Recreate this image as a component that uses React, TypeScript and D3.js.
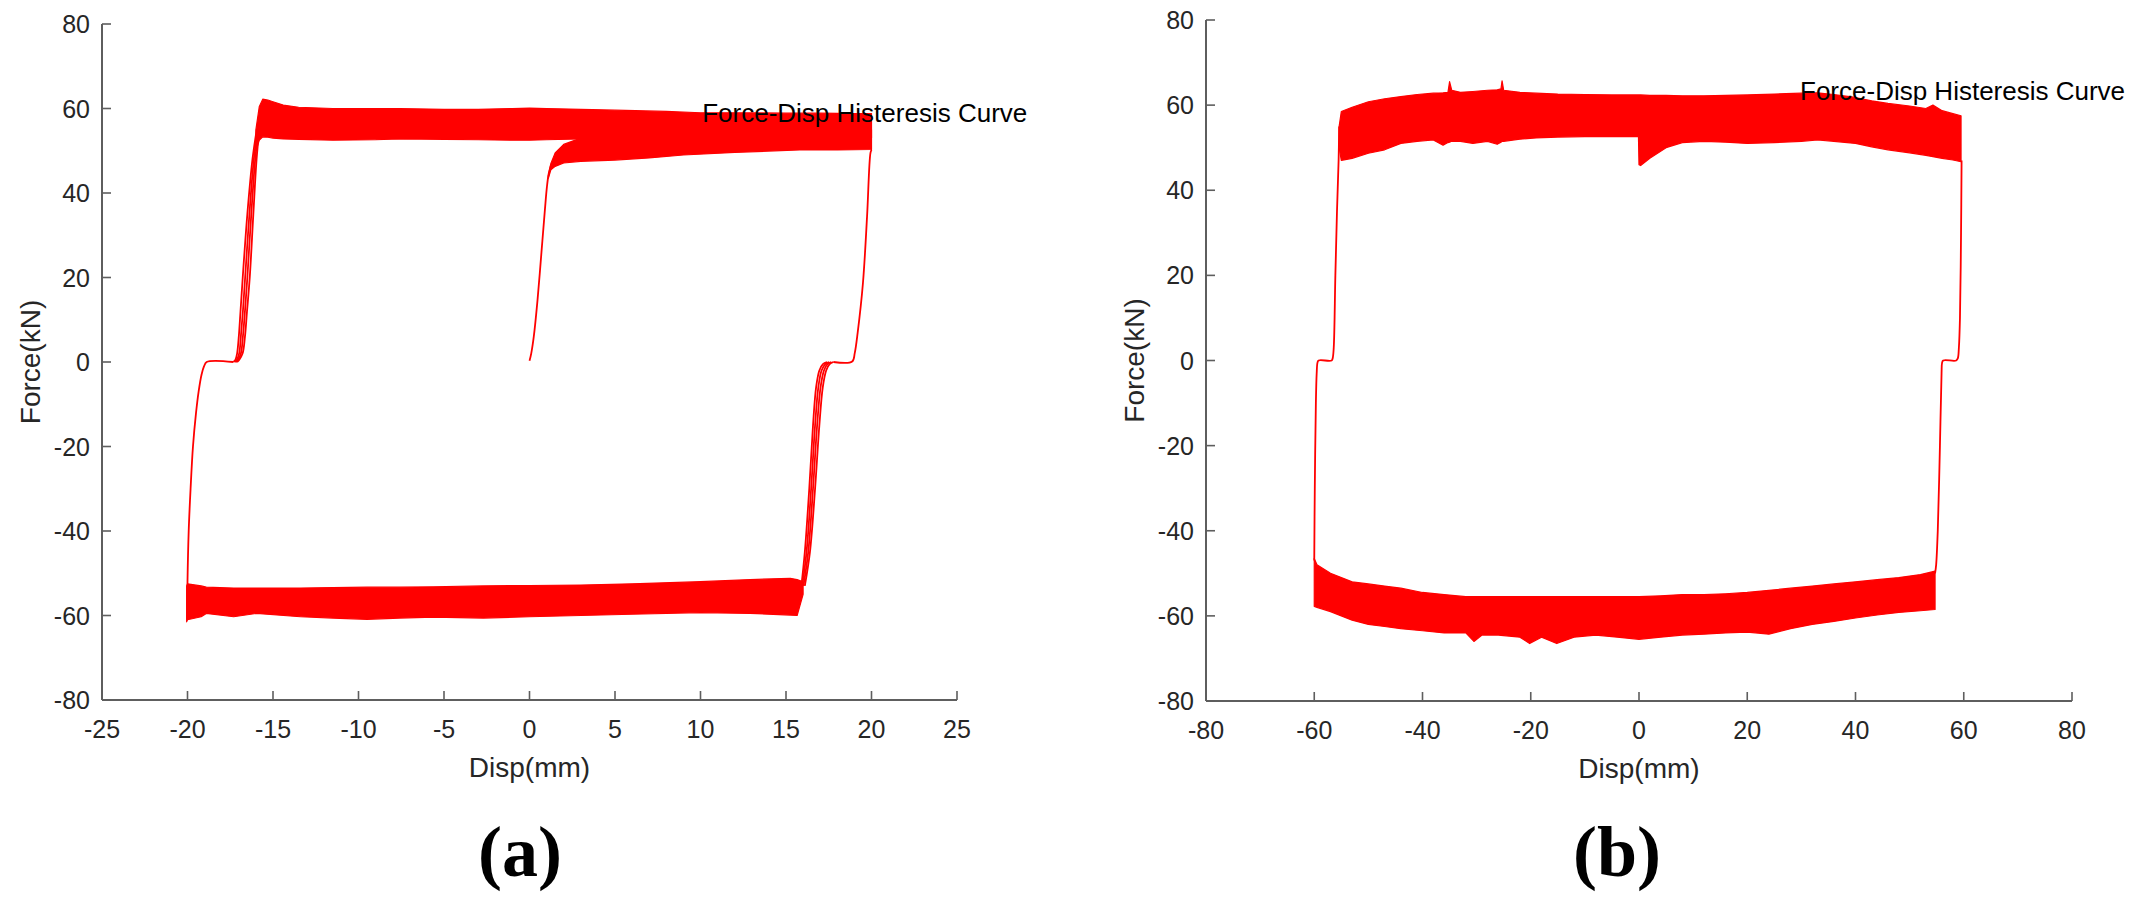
import React from 'react';
import * as d3 from 'd3';

// ---------------- tick labels ----------------
const A_X_TICKS = [-25, -20, -15, -10, -5, 0, 5, 10, 15, 20, 25];
const B_X_TICKS = [-80, -60, -40, -20, 0, 20, 40, 60, 80];
const Y_TICKS = [-80, -60, -40, -20, 0, 20, 40, 60, 80];

// ---------------- panel (a) data ----------------
// upper (positive force) band envelope
const A_UP_X = [-16.0, -15.8, -15.6, -15.3, -15.0, -14.4, -13.5, -11.5, -9, -7.6, -5, -3, -1, 0, 1, 3, 5, 8, 10, 12, 15, 17, 19, 20];
const A_UP_TOP = [55, 60.5, 62.2, 62, 61.6, 60.8, 60.3, 60, 60, 60, 59.8, 59.8, 60, 60.1, 60, 59.8, 59.6, 59.3, 59, 59, 58.9, 58.9, 58.8, 58.8];
const A_UP_BOT = [50, 52.5, 53.3, 53.2, 53, 52.8, 52.7, 52.5, 52.6, 52.8, 52.7, 52.6, 52.5, 52.5, 52.6, 52.8, 53, 53, 53, 53, 53, 53, 53, 53];
// band formed by the first loading cycle
const A_INIT_X = [1.1, 1.25, 1.5, 2, 3, 5, 7, 9, 12, 15.8, 18, 20];
const A_INIT_TOP = [44, 47, 49.5, 51.5, 53, 54, 54.5, 55, 55, 55, 55, 55];
const A_INIT_BOT = [43.5, 45.5, 46.3, 47.1, 47.5, 47.8, 48.3, 49, 49.6, 50.2, 50.2, 50.3];
// lower (negative force) band envelope
const A_LOW_X = [-20.05, -20, -19.2, -18.9, -17.3, -15.95, -13.4, -11.5, -9.5, -7.6, -5.6, -2.7, 0, 3, 6, 10, 12.9, 15.25, 15.65, 16.0];
const A_LOW_TOP = [-53, -52.5, -53, -53.3, -53.5, -53.5, -53.5, -53.4, -53.3, -53.3, -53.2, -53, -52.9, -52.8, -52.5, -52, -51.5, -51.2, -51.5, -52];
const A_LOW_BOT = [-61.5, -61, -60.3, -59.5, -60.3, -59.5, -60.3, -60.6, -60.9, -60.6, -60.4, -60.6, -60.3, -60, -59.7, -59.3, -59.5, -59.9, -60, -55];
// initial loading curve from the origin
const A_LOAD_X = [0, 0.1, 0.25, 0.47, 0.7, 0.9, 1.02, 1.12, 1.25];
const A_LOAD_Y = [0.3, 2, 6, 14.7, 26, 36, 41.5, 44.5, 46.5];
// left unloading branch down to -60 and the zero-force plateau
const A_LEFT_X = [-20.02, -20.0, -19.93, -19.82, -19.68, -19.5, -19.35, -19.18, -19.03, -18.88, -17.32];
const A_LEFT_Y = [-61, -52, -40, -30, -20, -12, -7, -3, -1, 0, 0];
// four re-loading branches from the plateau up to the upper band
const A_RISE_Y = [0, 0.5, 2, 6, 12, 20, 35, 48, 55];
const A_RISE_X1 = [-17.32, -17.2, -17.1, -17.0, -16.9, -16.77, -16.5, -16.2, -15.95];
const A_RISE_X2 = [-17.25, -17.12, -16.98, -16.88, -16.76, -16.63, -16.38, -16.12, -15.9];
const A_RISE_X3 = [-17.18, -17.05, -16.88, -16.76, -16.64, -16.5, -16.27, -16.04, -15.85];
const A_RISE_X4 = [-17.1, -16.98, -16.78, -16.64, -16.52, -16.36, -16.15, -15.96, -15.8];
// right unloading branch from +20 and the plateau
const A_RIGHT_X = [20, 19.94, 19.74, 19.5, 19.19, 19.02, 18.87, 17.77];
const A_RIGHT_Y = [50.2, 49.5, 34.4, 18.7, 6.9, 2.1, 0.1, 0];
// four descending branches from the plateau to the lower band
const A_FALL_Y = [0, -0.5, -2, -6, -15, -30, -45, -53];
const A_FALL_X1 = [17.77, 17.55, 17.35, 17.15, 16.95, 16.7, 16.4, 16.1];
const A_FALL_X2 = [17.65, 17.42, 17.22, 17.02, 16.82, 16.58, 16.3, 16.02];
const A_FALL_X3 = [17.52, 17.3, 17.08, 16.89, 16.7, 16.47, 16.2, 15.95];
const A_FALL_X4 = [17.4, 17.16, 16.95, 16.76, 16.58, 16.36, 16.1, 15.9];

// ---------------- panel (b) data ----------------
const B_UP_X = [-55.4, -55, -53, -50, -47, -44, -41, -38, -36.2, -35.3, -35, -34.6, -33, -30.7, -28, -26.2, -25.5, -25.3, -25, -22, -19, -15, -10, -5, -0.1, 0, 0.3, 2, 5, 8, 12, 16, 20, 25, 30, 33, 36, 40, 43, 46, 50, 53, 54.3, 56, 58, 59.5];
const B_UP_TOP = [55, 58.5, 59.5, 60.8, 61.5, 62, 62.5, 62.8, 62.9, 63, 65.5, 63.5, 63, 63.2, 63.5, 63.6, 63.8, 65.7, 63.5, 63, 62.8, 62.6, 62.5, 62.4, 62.4, 62.4, 62.4, 62.3, 62.3, 62.2, 62.2, 62.3, 62.4, 62.6, 62.8, 62.9, 62.5, 61.8, 61, 60.4, 59.8, 59.2, 60, 58.7, 58, 57.5];
const B_UP_BOT = [50, 47, 47.5, 48.7, 49.5, 51, 51.5, 51.8, 50.6, 51.2, 51.3, 51.5, 51.5, 51, 51.5, 50.8, 51.3, 51.5, 51.5, 52, 52.3, 52.5, 52.6, 52.6, 52.6, 46, 45.8, 47.5, 50, 51.2, 51.5, 51.3, 51, 51.2, 51.5, 51.8, 51.5, 51, 50.2, 49.5, 48.8, 48.2, 47.9, 47.5, 47.1, 46.7];
const B_LOW_X = [-60, -59.5, -57, -55, -53, -50, -47, -44, -40, -36, -32, -30.5, -29, -26, -22, -20.2, -18, -15.2, -12, -8, -4, 0, 4, 8, 12, 16, 20, 24, 28, 32, 36, 40, 44, 48, 52, 54.7];
const B_LOW_TOP = [-46.5, -48, -50, -51, -52, -52.5, -53, -53.5, -54.5, -55, -55.5, -55.5, -55.5, -55.5, -55.5, -55.5, -55.5, -55.5, -55.5, -55.5, -55.5, -55.5, -55.3, -55, -55, -54.8, -54.5, -54, -53.5, -53, -52.5, -52, -51.5, -51, -50.3, -49.5];
const B_LOW_BOT = [-57.8, -58, -59, -60, -61, -62, -62.5, -63, -63.5, -64, -64, -66, -64.5, -64.5, -65, -66.5, -65, -66.5, -65, -64.5, -65, -65.5, -65, -64.5, -64.3, -64, -63.8, -64.3, -63, -62, -61.3, -60.5, -59.8, -59.2, -58.8, -58.5];
const B_LEFT_X = [-60, -59.9, -59.7, -59.55, -59.4, -59.2, -56.8, -56.6, -56.4, -56.1, -55.8, -55.5, -55.4];
const B_LEFT_Y = [-47, -30, -10, -3, -0.5, 0, 0, 0.5, 3, 20, 35, 47, 55];
const B_RIGHT_X = [59.6, 59.5, 59.3, 59.1, 58.9, 58.6, 56.2, 56.0, 55.9, 55.6, 55.2, 54.9, 54.7];
const B_RIGHT_Y = [47, 30, 10, 3, 0.5, 0, 0, -0.5, -3, -20, -40, -48, -50];

const RED = '#ff0000';
const TICK_TEXT = '#262626';
const AXIS = '#5e5e5e';
const SANS = '"Liberation Sans", Arial, Helvetica, sans-serif';
const SERIF = '"Liberation Serif", "Times New Roman", serif';

type Band = { x: number[]; top: number[]; bot: number[] };
type Line = { x: number[]; y: number[] };

type PanelCfg = {
  xDomain: [number, number];
  xRange: [number, number];
  yRange: [number, number];
  xTicks: number[];
  bands: Band[];
  lines: Line[];
  title: { x: number; y: number };
  letter: string;
  letterX: number;
};

const panels: PanelCfg[] = [
  {
    xDomain: [-25, 25],
    xRange: [102, 957],
    yRange: [700, 24],
    xTicks: A_X_TICKS,
    bands: [
      { x: A_UP_X, top: A_UP_TOP, bot: A_UP_BOT },
      { x: A_INIT_X, top: A_INIT_TOP, bot: A_INIT_BOT },
      { x: A_LOW_X, top: A_LOW_TOP, bot: A_LOW_BOT },
    ],
    lines: [
      { x: A_LOAD_X, y: A_LOAD_Y },
      { x: A_LEFT_X, y: A_LEFT_Y },
      { x: A_RISE_X1, y: A_RISE_Y },
      { x: A_RISE_X2, y: A_RISE_Y },
      { x: A_RISE_X3, y: A_RISE_Y },
      { x: A_RISE_X4, y: A_RISE_Y },
      { x: A_RIGHT_X, y: A_RIGHT_Y },
      { x: A_FALL_X1, y: A_FALL_Y },
      { x: A_FALL_X2, y: A_FALL_Y },
      { x: A_FALL_X3, y: A_FALL_Y },
      { x: A_FALL_X4, y: A_FALL_Y },
    ],
    title: { x: 10.1, y: 56.8 },
    letter: '(a)',
    letterX: 520,
  },
  {
    xDomain: [-80, 80],
    xRange: [1206, 2072],
    yRange: [701, 20],
    xTicks: B_X_TICKS,
    bands: [
      { x: B_UP_X, top: B_UP_TOP, bot: B_UP_BOT },
      { x: B_LOW_X, top: B_LOW_TOP, bot: B_LOW_BOT },
    ],
    lines: [
      { x: B_LEFT_X, y: B_LEFT_Y },
      { x: B_RIGHT_X, y: B_RIGHT_Y },
    ],
    title: { x: 29.75, y: 61.2 },
    letter: '(b)',
    letterX: 1617,
  },
];

function Panel({ cfg }: { cfg: PanelCfg }) {
  const xs = d3.scaleLinear().domain(cfg.xDomain).range(cfg.xRange);
  const ys = d3.scaleLinear().domain([-80, 80]).range(cfg.yRange);
  const x0 = cfg.xRange[0];
  const x1 = cfg.xRange[1];
  const yb = cfg.yRange[0];
  const yt = cfg.yRange[1];
  const tickLen = 9;

  const bandPaths = cfg.bands.map((b) => {
    const area = d3
      .area<number>()
      .x((i) => xs(b.x[i]))
      .y0((i) => ys(b.bot[i]))
      .y1((i) => ys(b.top[i]));
    return area(d3.range(b.x.length)) || '';
  });
  const linePaths = cfg.lines.map((l) => {
    const line = d3
      .line<number>()
      .x((i) => xs(l.x[i]))
      .y((i) => ys(l.y[i]))
      .curve(d3.curveCatmullRom.alpha(0.5));
    return line(d3.range(l.x.length)) || '';
  });

  const cx = (x0 + x1) / 2;

  return (
    <g>
      {/* data */}
      <g>
        {bandPaths.map((d, i) => (
          <path key={'b' + i} d={d} fill={RED} stroke={RED} strokeWidth={1.2} strokeLinejoin="round" />
        ))}
        {linePaths.map((d, i) => (
          <path key={'l' + i} d={d} fill="none" stroke={RED} strokeWidth={1.8} strokeLinejoin="round" />
        ))}
      </g>
      {/* axes */}
      <line x1={x0} x2={x1} y1={yb} y2={yb} stroke={AXIS} strokeWidth={2} />
      <line x1={x0} x2={x0} y1={yb} y2={yt} stroke={AXIS} strokeWidth={2} />
      {cfg.xTicks.map((t) => (
        <g key={'xt' + t}>
          <line x1={xs(t)} x2={xs(t)} y1={yb} y2={yb - tickLen} stroke={AXIS} strokeWidth={1.6} />
          <text x={xs(t)} y={yb + 38} textAnchor="middle" fontFamily={SANS} fontSize={25} fill={TICK_TEXT}>
            {t}
          </text>
        </g>
      ))}
      {Y_TICKS.map((t) => (
        <g key={'yt' + t}>
          <line x1={x0} x2={x0 + tickLen} y1={ys(t)} y2={ys(t)} stroke={AXIS} strokeWidth={1.6} />
          <text x={x0 - 12} y={ys(t) + 9} textAnchor="end" fontFamily={SANS} fontSize={25} fill={TICK_TEXT}>
            {t}
          </text>
        </g>
      ))}
      {/* axis labels */}
      <text x={cx} y={yb + 77} textAnchor="middle" fontFamily={SANS} fontSize={28} fill={TICK_TEXT}>
        Disp(mm)
      </text>
      <text
        transform={`translate(${x0 - 62},${ys(0)}) rotate(-90)`}
        textAnchor="middle"
        fontFamily={SANS}
        fontSize={28}
        fill={TICK_TEXT}
      >
        Force(kN)
      </text>
      {/* annotation */}
      <text x={xs(cfg.title.x)} y={ys(cfg.title.y)} fontFamily={SANS} fontSize={26} fill="#000">
        Force-Disp Histeresis Curve
      </text>
      {/* panel letter */}
      <text x={cfg.letterX} y={876} textAnchor="middle" fontFamily={SERIF} fontWeight="bold" fontSize={72} fill="#000">
        {cfg.letter}
      </text>
    </g>
  );
}

export default function App() {
  return (
    <svg
      width={2139}
      height={911}
      viewBox="0 0 2139 911"
      style={{ position: 'absolute', left: 0, top: 0, background: '#fff' }}
    >
      <rect x={0} y={0} width={2139} height={911} fill="#fff" />
      {panels.map((p, i) => (
        <Panel key={i} cfg={p} />
      ))}
    </svg>
  );
}
